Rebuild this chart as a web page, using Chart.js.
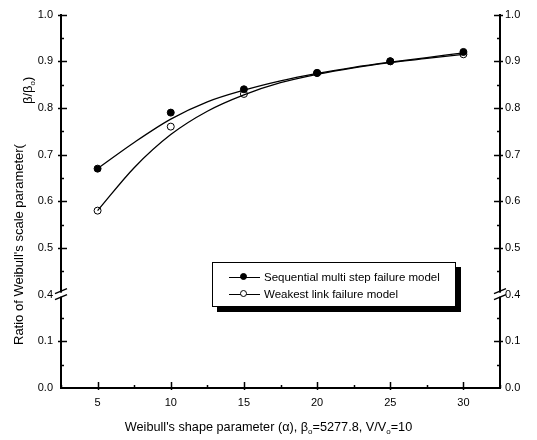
<!DOCTYPE html>
<html lang="en">
<head>
  <meta charset="UTF-8" />
  <title>Weibull scale parameter ratio</title>
  <script src="https://cdn.jsdelivr.net/npm/chart.js"></script>
  <style>
    body {
      margin: 0;
      background: #fff;
      font-family: 'Liberation Sans', Arial, sans-serif;
      color: #000;
    }
    #wrap {
      position: relative;
      width: 537px;
      height: 440px;
    }
    .ytitle {
      position: absolute;
      transform-origin: left top;
      transform: rotate(-90deg);
      white-space: nowrap;
      font-size: 13px;
      line-height: 13px;
    }
    .xtitle {
      position: absolute;
      left: 0;
      width: 537px;
      top: 420px;
      text-align: center;
      font-size: 12.7px;
      white-space: nowrap;
    }
    sub {
      font-size: 8px;
      vertical-align: -3px;
    }
    .legend {
      position: absolute;
      left: 212px;
      top: 262px;
      width: 242px;
      height: 43px;
      border: 1px solid #000;
      background: #fff;
      box-shadow: 5px 5px 0 #000;
      font-size: 11.5px;
    }
    .legend .row {
      position: absolute;
      left: 16px;
      height: 14px;
      line-height: 14px;
      white-space: nowrap;
    }
    .legend .sample {
      display: inline-block;
      position: relative;
      width: 31px;
      height: 14px;
      vertical-align: top;
      margin-right: 4px;
    }
    .legend .sample::before {
      content: '';
      position: absolute;
      left: 0;
      right: 0;
      top: 7px;
      border-top: 1px solid #000;
    }
    .legend .dot {
      position: absolute;
      left: 11px;
      top: 3px;
      width: 7px;
      height: 7px;
      border-radius: 50%;
      border: 1px solid #000;
      box-sizing: border-box;
    }
  </style>
</head>
<body>
  <div id="wrap">
    <canvas id="ratioChart"></canvas>
    <div class="ytitle" style="left:12px; top:345px;">Ratio of Weibull's scale parameter(</div>
    <div class="ytitle" style="left:21px; top:104px;">&beta;/&beta;<sub>o</sub>)</div>
    <div class="xtitle">Weibull's shape parameter (&alpha;), &beta;<sub>o</sub>=5277.8, V/V<sub>o</sub>=10</div>
    <div class="legend">
      <div class="row" style="top:7px;"><span class="sample"><span class="dot" style="background:#000;"></span></span>Sequential multi step failure model</div>
      <div class="row" style="top:24px;"><span class="sample"><span class="dot" style="background:#fff;"></span></span>Weakest link failure model</div>
    </div>
  </div>

  <script>
    // measured points
    const shapeAlpha = [5, 10, 15, 20, 25, 30];
    const seqRatio = [0.67, 0.79, 0.84, 0.875, 0.90, 0.92];
    const weakRatio = [0.58, 0.76, 0.83, 0.875, 0.90, 0.915];

    // fitted curves
    const fitAlpha = [5, 7.5, 10, 12.5, 15, 17.5, 20, 22.5, 25, 27.5, 30];
    const seqFit = [0.670, 0.726, 0.776, 0.813, 0.838, 0.858, 0.874, 0.887, 0.898, 0.908, 0.918];
    const weakFit = [0.580, 0.672, 0.743, 0.793, 0.828, 0.854, 0.872, 0.886, 0.897, 0.906, 0.915];

    const xMajorTicks = [5, 10, 15, 20, 25, 30];
    const yUpperLabels = [0.4, 0.5, 0.6, 0.7, 0.8, 0.9, 1.0];
    const yLowerLabels = [0.0, 0.1];

    Chart.defaults.font.family = "'Liberation Sans', Arial, sans-serif";
    Chart.defaults.font.size = 11;
    Chart.defaults.color = '#000';

    const pts = (xs, ys) => xs.map((x, i) => ({ x: x, y: ys[i] }));
    const near = (v, list) => list.some(t => Math.abs(t - v) < 1e-6);

    function yAxis(pos, min, max, weight, labels, pad) {
      return {
        type: 'linear',
        position: pos,
        stack: pos,
        stackWeight: weight,
        min: min,
        max: max,
        grid: { display: false, drawTicks: false, tickLength: 0 },
        border: { display: true, color: '#000', width: 2 },
        ticks: {
          stepSize: 0.05,
          padding: pad,
          autoSkip: false,
          callback: v => near(v, labels) ? v.toFixed(1) : ''
        },
        afterFit: s => { s.width = pos === 'left' ? 61 : 37; }
      };
    }

    // inward tick marks + axis break symbols
    const axisMarks = {
      id: 'axisMarks',
      afterDraw(chart) {
        const ctx = chart.ctx;
        ctx.save();
        ctx.strokeStyle = '#000';
        ctx.lineWidth = 1.5;
        for (const s of Object.values(chart.scales)) {
          const isX = s.axis === 'x';
          for (const t of s.ticks) {
            const v = t.value;
            let major;
            if (isX) {
              major = near(v, xMajorTicks);
            } else {
              if (s.id.startsWith('yLow') && v > 0.19) continue;
              if (s.id.startsWith('yUp') && v < 0.41) continue;
              if (v < 0.01) continue;
              major = Math.abs(v * 10 - Math.round(v * 10)) < 1e-6;
            }
            const len = major ? 6 : 3;
            const p = Math.round(s.getPixelForValue(v)) + 0.5;
            ctx.beginPath();
            if (isX) {
              const y = s.top;
              ctx.moveTo(p, y + (major ? 2 : 0));
              ctx.lineTo(p, y - len);
            } else if (s.position === 'left') {
              const x = s.right;
              ctx.moveTo(x - (major ? 3 : 0), p);
              ctx.lineTo(x + len, p);
            } else {
              const x = s.left;
              ctx.moveTo(x + (major ? 3 : 0), p);
              ctx.lineTo(x - len, p);
            }
            ctx.stroke();
          }
        }
        // break marks
        for (const id of ['yUpL', 'yUpR']) {
          const s = chart.scales[id];
          const x = s.position === 'left' ? s.right : s.left;
          const y = s.bottom;
          ctx.fillStyle = '#fff';
          ctx.fillRect(x - 2, y - 2, 4, 4);
          ctx.lineWidth = 1.5;
          ctx.beginPath();
          ctx.moveTo(x - 6, y - 1);
          ctx.lineTo(x + 6, y - 6);
          ctx.moveTo(x - 6, y + 5);
          ctx.lineTo(x + 6, y);
          ctx.stroke();
        }
        ctx.restore();
      }
    };

    new Chart(document.getElementById('ratioChart'), {
      type: 'line',
      data: {
        datasets: [
          {
            label: 'Sequential fit',
            data: pts(fitAlpha, seqFit),
            yAxisID: 'yUpL',
            borderColor: '#000',
            borderWidth: 1.3,
            pointRadius: 0,
            cubicInterpolationMode: 'monotone',
            fill: false
          },
          {
            label: 'Weakest fit',
            data: pts(fitAlpha, weakFit),
            yAxisID: 'yUpL',
            borderColor: '#000',
            borderWidth: 1.3,
            pointRadius: 0,
            cubicInterpolationMode: 'monotone',
            fill: false
          },
          {
            label: 'Sequential multi step failure model',
            data: pts(shapeAlpha, seqRatio),
            yAxisID: 'yUpL',
            showLine: false,
            pointRadius: 3.5,
            pointBackgroundColor: '#000',
            pointBorderColor: '#000',
            pointBorderWidth: 1
          },
          {
            label: 'Weakest link failure model',
            data: pts(shapeAlpha, weakRatio),
            yAxisID: 'yUpL',
            showLine: false,
            pointRadius: 3.5,
            pointBackgroundColor: '#fff',
            pointBorderColor: '#000',
            pointBorderWidth: 1
          }
        ]
      },
      options: {
        responsive: true,
        maintainAspectRatio: false,
        animation: false,
        layout: { padding: { top: 14, left: 0, right: 0, bottom: 0 } },
        plugins: {
          legend: { display: false },
          tooltip: { enabled: false }
        },
        scales: {
          x: {
            type: 'linear',
            min: 2.5,
            max: 32.5,
            grid: { display: false, drawTicks: false, tickLength: 0 },
            border: { display: true, color: '#000', width: 2 },
            ticks: {
              stepSize: 2.5,
              padding: 8,
              autoSkip: false,
              maxRotation: 0,
              callback: v => near(v, xMajorTicks) ? String(v) : ''
            },
            afterFit: s => { s.height = 52; }
          },
          yLowL: yAxis('left', 0, 0.2, 2, yLowerLabels, 8),
          yUpL: yAxis('left', 0.4, 1.0, 6, yUpperLabels, 8),
          yUpR: yAxis('right', 0.4, 1.0, 6, yUpperLabels, 5),
          yLowR: yAxis('right', 0, 0.2, 2, yLowerLabels, 5)
        }
      },
      plugins: [axisMarks]
    });
  </script>
</body>
</html>
